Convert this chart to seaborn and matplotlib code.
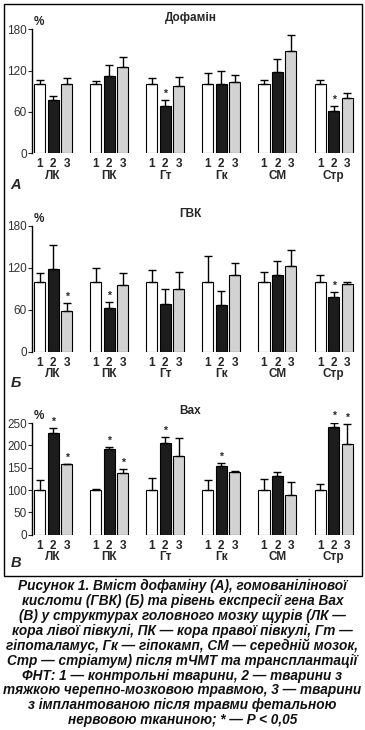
import numpy as np
import pandas as pd
import matplotlib
matplotlib.use("Agg")
from matplotlib import pyplot as plt
from matplotlib import transforms
from matplotlib.patches import Rectangle
import seaborn as sns

# ======================================================================
# Data (% of control)
# ======================================================================
regions = ["ЛК", "ПК", "Гт", "Гк", "СМ", "Стр"]
groups = ["1", "2", "3"]

# A - dopamine
dop_1 = [100, 100, 100, 100, 100, 100]
dop_2 = [77, 112, 69, 100, 118, 62]
dop_3 = [100, 125, 98, 103, 148, 80]
dop_1_err = [7, 4.5, 10, 16, 7, 7]
dop_2_err = [6, 16, 8, 20, 19, 6]
dop_3_err = [10, 15, 13, 10, 23, 7]
dop_stars = [(2, 1), (5, 1)]

# Б - homovanillic acid
hva_1 = [100, 100, 100, 100, 100, 100]
hva_2 = [118, 62, 68, 67, 110, 78]
hva_3 = [58, 95, 90, 110, 123, 96]
hva_1_err = [13, 20, 16, 37, 14, 10]
hva_2_err = [35, 8.5, 21, 19, 19, 7]
hva_3_err = [11, 18, 24, 17, 22, 4]
hva_stars = [(0, 2), (1, 1), (5, 1)]

# В - Bax expression
bax_1 = [100, 100, 100, 100, 100, 100]
bax_2 = [228, 192, 205, 154, 131, 241]
bax_3 = [158, 137, 176, 140, 89, 203]
bax_1_err = [22, 1.5, 28, 22, 24, 13]
bax_2_err = [10, 4, 13, 6, 10, 10]
bax_3_err = [0, 9, 40, 2, 28, 44]
bax_stars = [(0, 1), (0, 2), (1, 1), (1, 2), (2, 1), (3, 1), (5, 1), (5, 2)]

caption = ("Рисунок 1. Вміст дофаміну (А), гомованілінової\n"
           "кислоти (ГВК) (Б) та рівень експресії гена Bax\n"
           "(В) у структурах головного мозку щурів (ЛК —\n"
           "кора лівої півкулі, ПК — кора правої півкулі, Гт —\n"
           "гіпоталамус, Гк — гіпокамп, СМ — середній мозок,\n"
           "Стр — стріатум) після тЧМТ та трансплантації\n"
           "ФНТ: 1 — контрольні тварини, 2 — тварини з\n"
           "тяжкою черепно-мозковою травмою, 3 — тварини\n"
           "з імплантованою після травми фетальною\n"
           "нервовою тканиною; * — P < 0,05")

sns.set_style("white")
plt.rcParams["font.family"] = ["Liberation Sans", "DejaVu Sans"]

W, H = 365, 730
fig = plt.figure(figsize=(W / 100, H / 100), dpi=100)

palette = {"1": "white", "2": "#1c1c1c", "3": "#d2d2d2"}


def make_df(v1, v2, v3, e1, e2, e3):
    rows = []
    for vals, errs, g in [(v1, e1, "1"), (v2, e2, "2"), (v3, e3, "3")]:
        for r, v, e in zip(regions, vals, errs):
            rows.append({"region": r, "group": g, "value": v, "err": e})
    return pd.DataFrame(rows)


def panel(y0_px, ytop_px, ymax, yticks, df, stars, title, letter, letter_y):
    left_px, right_px = 32.3, 362
    ax = fig.add_axes([left_px / W, 1 - y0_px / H,
                       (right_px - left_px) / W, (y0_px - ytop_px) / H])
    sns.barplot(data=df, x="region", y="value", hue="group", order=regions,
                hue_order=groups, palette=palette, edgecolor="black",
                linewidth=0.8, width=0.72, gap=0.18, errorbar=None,
                legend=False, ax=ax)
    ax.set_ylim(0, ymax)
    ax.set_xlim(-0.37, -0.37 + (right_px - left_px) / 56.1)

    # bar centres, sorted by position -> region, then group
    bars = sorted(ax.patches, key=lambda p: p.get_x())
    xs = [p.get_x() + p.get_width() / 2 for p in bars]
    d = df.set_index(["region", "group"])
    vals, errs = [], []
    for r in regions:
        for g in groups:
            vals.append(d.loc[(r, g), "value"])
            errs.append(d.loc[(r, g), "err"])
    ax.errorbar(xs, vals, yerr=[np.zeros(len(errs)), errs], fmt="none",
                ecolor="black", elinewidth=1, capsize=3.2, capthick=1,
                zorder=1)
    for ri, gi in stars:
        k = ri * 3 + gi
        ax.annotate("*", (xs[k], vals[k] + errs[k]), xytext=(0, 4.5),
                    textcoords="offset points", ha="center", va="center",
                    fontsize=7.5, fontweight="bold")

    for s in ["top", "right", "bottom"]:
        ax.spines[s].set_visible(False)
    ax.spines["left"].set_color("black")
    ax.spines["left"].set_linewidth(1)
    ax.set_yticks(yticks)
    ax.tick_params(axis="y", left=True, length=3, width=0.8, pad=1,
                   labelsize=8.5, labelcolor="#333333")
    ax.set_xticks(xs)
    ax.set_xticklabels(groups * len(regions), fontweight="bold", fontsize=8.5)
    ax.tick_params(axis="x", length=0, pad=3.5)
    ax.set_xlabel("")
    ax.set_ylabel("")
    lab_tr = transforms.offset_copy(ax.get_xaxis_transform(), fig=fig,
                                    y=-22.5, units="dots")
    for i, r in enumerate(regions):
        ax.text(i, 0, r, transform=lab_tr, ha="center", va="center",
                fontsize=8.5, fontweight="bold")
    ax.text(0.005, 1.0, "%", transform=transforms.offset_copy(
        ax.transAxes, fig=fig, y=7, units="dots"),
        ha="left", va="center", fontsize=8.5, fontweight="bold")
    ax.text(0.48, 1.0, title, transform=transforms.offset_copy(
        ax.transAxes, fig=fig, y=11.5, units="dots"),
        ha="center", va="center", fontsize=8.5, fontweight="bold")
    fig.text(16 / W, 1 - letter_y / H, letter, ha="center", va="center",
             fontsize=10.5, fontweight="bold", fontstyle="italic")
    return ax


df_a = make_df(dop_1, dop_2, dop_3, dop_1_err, dop_2_err, dop_3_err)
df_b = make_df(hva_1, hva_2, hva_3, hva_1_err, hva_2_err, hva_3_err)
df_c = make_df(bax_1, bax_2, bax_3, bax_1_err, bax_2_err, bax_3_err)

panel(153.3, 29.3, 180, [0, 60, 120, 180], df_a, dop_stars, "Дофамін", "А", 185)
panel(351.7, 225.7, 180, [0, 60, 120, 180], df_b, hva_stars, "ГВК", "Б", 383)
panel(534.7, 423, 250, [0, 50, 100, 150, 200, 250], df_c, bax_stars, "Bax", "В", 563)

# frame around the panels
fig.patches.append(Rectangle((4 / W, 1 - 576 / H), 358 / W, 572 / H,
                             transform=fig.transFigure, fill=False,
                             edgecolor="black", linewidth=1))

fig.text(0.5, 1 - 653 / H, caption, ha="center", va="center", fontsize=9.8,
         fontweight="bold", fontstyle="italic", linespacing=1.07,
         color="#111111")

fig.savefig("out.png", dpi=100)
